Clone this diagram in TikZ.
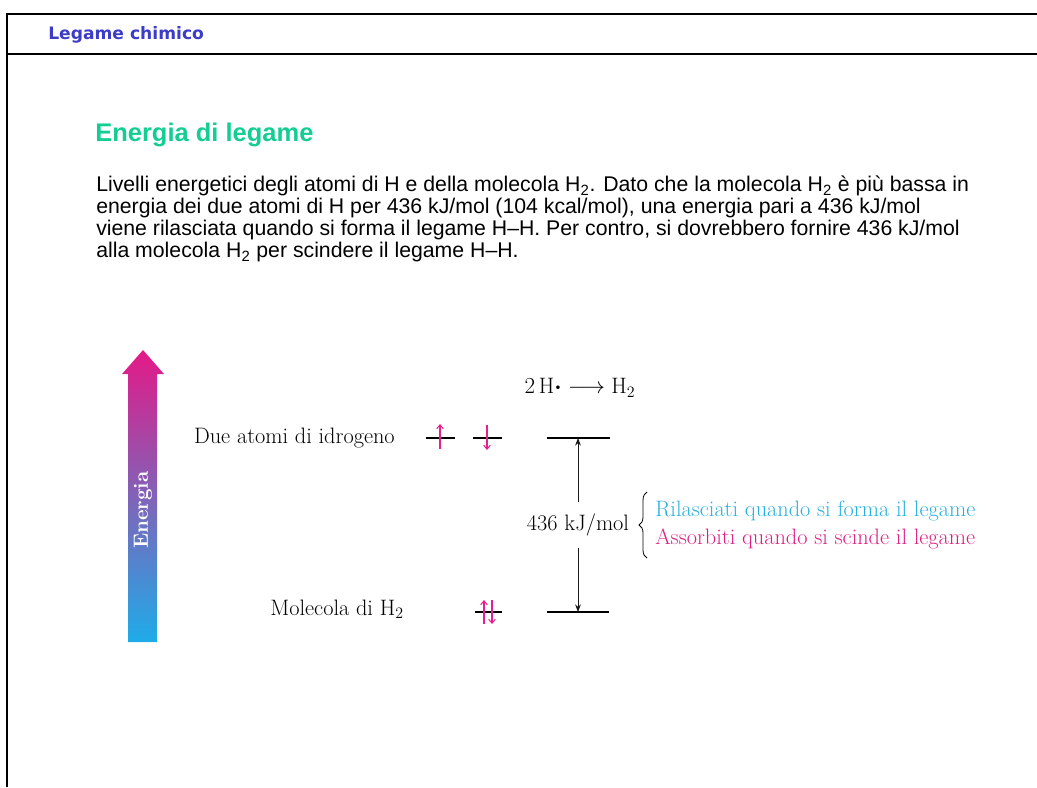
\documentclass[tikz,border=0pt]{standalone}
\usepackage{amsmath,amssymb}
\usepackage{fontspec}
\newfontfamily\headfont{DejaVu Sans}
\newfontfamily\arialfont[Ligatures=TeX]{Liberation Sans}
\usetikzlibrary{arrows.meta,positioning,calc,decorations.pathreplacing}

\definecolor{headblue}{RGB}{60,60,200}
\definecolor{titlegreen}{RGB}{20,205,145}
\definecolor{spinpink}{RGB}{232,30,140}
\definecolor{relcyan}{RGB}{40,175,225}
\definecolor{abspink}{RGB}{222,30,130}
\definecolor{engtop}{RGB}{228,25,135}
\definecolor{engmid}{RGB}{150,105,180}
\definecolor{engbot}{RGB}{30,172,232}

\begin{document}
\begin{tikzpicture}[x=0.02646cm, y=-0.02646cm, >=Stealth,
    frame/.style={line width=2pt},
    level/.style={line width=0.9pt},
    spin/.style={spinpink, line width=0.8pt, -{Straight Barb[length=3pt,width=5pt]}},
    gap/.style={gray!20!black, line width=0.6pt, ->, shorten >=0pt},
    lbl/.style={font=\fontsize{16.8}{19}\selectfont, inner sep=0pt},
    body/.style={font=\arialfont\fontsize{16}{16.5}\selectfont, align=left, inner sep=0pt}]
  \useasboundingbox (0,0) rectangle (1037,787);
  % slide frame and header
  \draw[frame] (7,787) -- (7,14) -- (1037,14);
  \draw[frame] (7,54) -- (1037,54);
  \node[anchor=west, text=headblue, inner sep=0pt, font=\headfont\bfseries\fontsize{12.9}{15}\selectfont] (head) at (48,35) {Legame chimico};
  % title and text
  \node[anchor=base west, text=titlegreen, inner sep=0pt, font=\arialfont\bfseries\fontsize{19.2}{22}\selectfont] (title) at (95,141) {Energia di legame};
  \node[body, anchor=north west] (testo) at (96,176)
    {Livelli energetici degli atomi di H e della molecola H\textsubscript{2}. Dato che la molecola H\textsubscript{2} è più bassa in\\
     energia dei due atomi di H per 436 kJ/mol (104 kcal/mol), una energia pari a 436 kJ/mol\\
     viene rilasciata quando si forma il legame H--H. Per contro, si dovrebbero fornire 436 kJ/mol\\
     alla molecola H\textsubscript{2} per scindere il legame H--H.};
  % energy arrow
  \shade[top color=engtop, middle color=engmid, bottom color=engbot]
    (128,642) -- (128,374) -- (122,374) -- (143,350) -- (164,374) -- (157,374) -- (157,642) -- cycle;
  \node[rotate=90, text=white, inner sep=0pt, font=\bfseries\fontsize{15.5}{17}\selectfont] (energia) at (143,510) {Energia};
  % levels
  \node[lbl, anchor=east] (atomi) at (395,438) {Due atomi di idrogeno};
  \node[lbl, anchor=east] (molec) at (404,609) {Molecola di H$_2$};
  \draw[level] (426,438) -- (455,438);
  \draw[level] (473,438) -- (502,438);
  \draw[level] (475,612) -- (502,612);
  \draw[level] (547,438) -- (610,438);
  \draw[level] (547,612) -- (609,612);
  \coordinate (alto) at (578,438);
  \coordinate (basso) at (578,612);
  \draw[spin] (440,449) -- (440,424);
  \draw[spin] (487,425) -- (487,450);
  \draw[spin] (484,624) -- (484,600);
  \draw[spin] (492,600) -- (492,624);
  % reaction and bond energy
  \node[lbl] (reaz) at (580,388) {$2\,\mathrm{H}\boldsymbol{\cdot}\longrightarrow\mathrm{H}_2$};
  \node[lbl, inner sep=9pt] (kj) at (578,525) {436 kJ/mol};
  \draw[gap] (kj) -- (alto);
  \draw[gap] (kj) -- (basso);
  \draw[line width=0.6pt, decorate, decoration={brace, amplitude=6pt}] (647,558) -- (647,492);
  \node[lbl, anchor=west, text=relcyan] (rilascio) at (655,511) {Rilasciati quando si forma il legame};
  \node[lbl, anchor=west, text=abspink] (assorbe) at (655,539) {Assorbiti quando si scinde il legame};
\end{tikzpicture}
\end{document}
